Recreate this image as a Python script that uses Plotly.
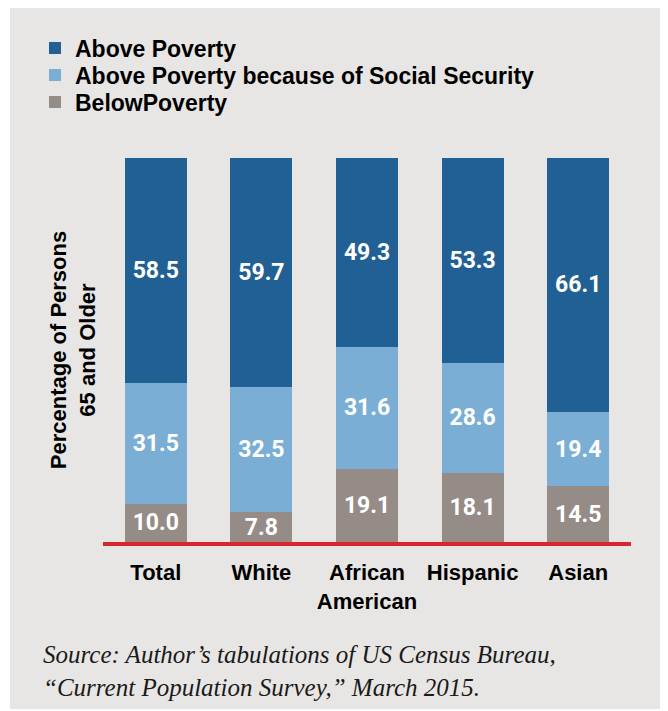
import plotly.graph_objects as go

categories = ["Total", "White", "African<br>American", "Hispanic", "Asian"]
above_poverty = [58.5, 59.7, 49.3, 53.3, 66.1]
above_ss = [31.5, 32.5, 31.6, 28.6, 19.4]
below_poverty = [10.0, 7.8, 19.1, 18.1, 14.5]

series_names = ["BelowPoverty", "Above Poverty because of Social Security", "Above Poverty"]
colors = ["#958c87", "#7aaed4", "#216094"]

# page body adds an 8px offset; work in screen coords and convert
OFF = 8
W, H = 668 - OFF, 711 - OFF
L, R, T, B = 103 - OFF, 37, 158 - OFF, 711 - 542
pw, ph = W - L - R, H - T - B

def px_x(p):
    return (p - OFF - L) / pw

def px_y(p):
    return (H - B - (p - OFF)) / ph

legend_names = ["legend3", "legend2", "legend"]
legend_rows = [102, 75, 48]

fig = go.Figure()
for name, vals, col, lg in zip(series_names, [below_poverty, above_ss, above_poverty], colors, legend_names):
    fig.add_trace(go.Bar(
        x=categories, y=vals, name=name, legend=lg,
        marker=dict(color=col, line=dict(width=0)),
        text=[f"{v:.1f}" for v in vals],
        textposition="inside", insidetextanchor="middle",
        constraintext="none",
        textfont=dict(family="Roboto", size=23, color="white", weight="bold"),
        hoverinfo="skip",
    ))

fig.add_shape(type="rect", xref="paper", yref="paper",
              x0=px_x(10), x1=px_x(668), y0=px_y(709), y1=px_y(5),
              fillcolor="#e8e6e4", line=dict(width=0), layer="below")

fig.add_annotation(
    xref="paper", yref="paper", x=px_x(41), y=px_y(639),
    xanchor="left", yanchor="top", align="left", showarrow=False,
    text="Source: Author’s tabulations of US Census Bureau,<br>“Current Population Survey,” March 2015.",
    font=dict(family="Liberation Serif", size=25, color="#1a1a1a", style="italic"),
)

legend_font = dict(family="Liberation Sans", size=23, color="black", weight="bold")
legends = {}
for lg, row in zip(legend_names, legend_rows):
    legends[lg] = dict(
        x=px_x(35), y=px_y(row), xanchor="left", yanchor="middle",
        bgcolor="rgba(0,0,0,0)", font=legend_font, itemclick=False,
        itemdoubleclick=False,
    )

fig.update_layout(
    width=W, height=H,
    margin=dict(l=L, r=R, t=T, b=B),
    paper_bgcolor="white", plot_bgcolor="rgba(0,0,0,0)",
    barmode="stack", bargap=0.413,
    showlegend=True,
    **legends,
    xaxis=dict(
        showline=True, linecolor="#d9262b", linewidth=4,
        ticks="", showgrid=False, ticklabelstandoff=8,
        tickfont=dict(family="Liberation Sans", size=22, color="black", weight="bold"),
    ),
    yaxis=dict(
        range=[0, 100], showticklabels=False, showgrid=False, zeroline=False, ticks="",
        title=dict(text="Percentage of Persons<br>65 and Older", standoff=0,
                   font=dict(family="Liberation Sans", size=22, color="black", weight="bold")),
    ),
)

fig.write_html("out.html")
